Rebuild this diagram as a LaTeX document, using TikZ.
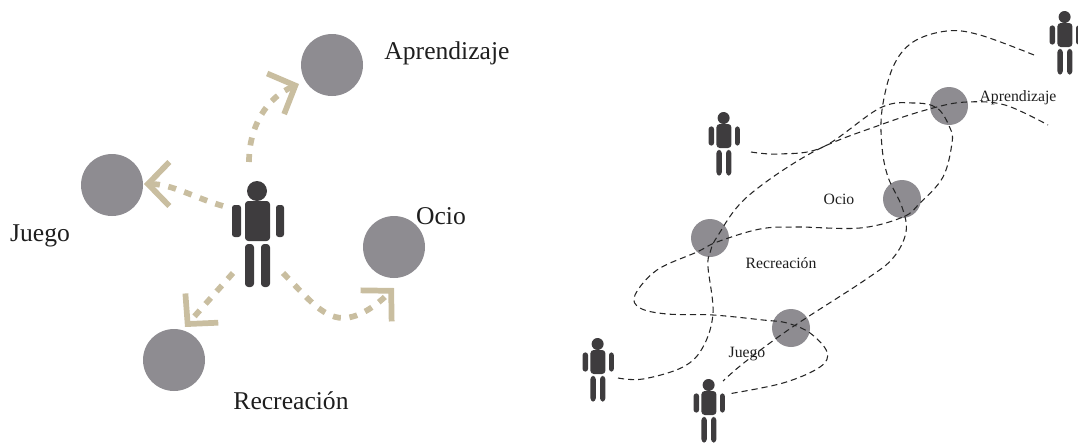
\documentclass[tikz,border=0pt]{standalone}
\usepackage{fontspec}
\setmainfont{Liberation Serif}
\usetikzlibrary{arrows.meta}
\definecolor{disc}{HTML}{8E8C91}
\definecolor{figurecol}{HTML}{3E3C3E}
\definecolor{tanline}{HTML}{C9BEA0}
\definecolor{labelcol}{HTML}{1E1E1E}
\tikzset{
  bigdisc/.style={circle,fill=disc,minimum size=46.5pt,inner sep=0pt},
  smalldisc/.style={circle,fill=disc,minimum size=28.5pt,inner sep=0pt},
  biglabel/.style={text=labelcol,inner sep=0pt,font=\fontsize{19.2}{22}\selectfont},
  smalllabel/.style={text=labelcol,inner sep=0pt,font=\fontsize{11.8}{14}\selectfont},
  tanarrow/.style={draw=tanline,line width=4.3pt,dash pattern=on 6pt off 6.5pt,
    -{Straight Barb[length=16pt,width=33pt,line width=4.3pt]}},
  route/.style={draw=black!85,line width=.8pt,dash pattern=on 4.6pt off 3pt},
  walker/.pic={
    \fill[figurecol] (1,0) circle[radius=10];
    \fill[figurecol,rounded corners=2.5pt] (-11,10) rectangle (14,50);
    \fill[figurecol,rounded corners=2pt] (-24,14) rectangle (-15,46);
    \fill[figurecol,rounded corners=2pt] (20,14) rectangle (28,46);
    \fill[figurecol,rounded corners=2.5pt] (-11,53) rectangle (-2,96);
    \fill[figurecol,rounded corners=2.5pt] (5,53) rectangle (14,96);
  }
}
\begin{document}
\begin{tikzpicture}[x=.75pt,y=-.75pt]
\useasboundingbox (0,0) rectangle (1078,443);
% left diagram
\node[bigdisc] (ap1) at (332,65) {};
\node[bigdisc] (ju1) at (112,185) {};
\node[bigdisc] (oc1) at (394,247) {};
\node[bigdisc] (re1) at (174,360) {};
\pic (central) at (256,191) {walker};
\coordinate (ca) at (249,162);
\coordinate (cj) at (223,206);
\coordinate (cr) at (233,273);
\coordinate (co) at (283,273);
\coordinate (ta) at (299,84);
\coordinate (tj) at (144,184);
\coordinate (tr) at (185,327);
\coordinate (to) at (394,288);
\draw[tanarrow] (ca) .. controls (249,125) and (268,97) .. (ta);
\draw[tanarrow] (cj) .. controls (195,198) and (172,184) .. (tj);
\draw[tanarrow] (cr) -- (tr);
\draw[tanarrow] (co) .. controls (305,295) and (322,318) .. (343,318) .. controls (360,318) and (378,304) .. (to);
\node[biglabel] (lap1) at (447,53) {Aprendizaje};
\node[biglabel] (lju1) at (40,236) {Juego};
\node[biglabel] (loc1) at (441,216) {Ocio};
\node[biglabel] (lre1) at (291,401) {Recreación};
% right diagram
\node[smalldisc] (ap2) at (949,106) {};
\node[smalldisc] (oc2) at (902,199) {};
\node[smalldisc] (re2) at (710,238) {};
\node[smalldisc] (ju2) at (791,328) {};
\pic[scale=.6] (pa) at (1064,17) {walker};
\pic[scale=.6] (pb) at (723,118) {walker};
\pic[scale=.6] (pc) at (597,344) {walker};
\pic[scale=.6] (pd) at (708,385) {walker};
\coordinate (a0) at (1034,55);
\coordinate (a1) at (723,381);
\coordinate (b0) at (751,152);
\coordinate (b1) at (728,394);
\coordinate (c0) at (618,378);
\coordinate (c1) at (1048,125);
\draw[route] plot[smooth,tension=.6] coordinates {(a0) (980,35) (947,31) (913,42) (893,67) (882,110) (882,147) (888,177) (902,207) (906,232) (893,258) (865,280) (791,328) (745,362) (a1)};
\draw[route] plot[smooth,tension=.6] coordinates {(b0) (780,154) (823,147) (880,108) (913,103) (937,108) (950,128) (952,143) (943,177) (920,203) (903,217) (860,228) (797,227) (760,229) (717,242) (697,252) (657,270) (635,295) (640,308) (667,314) (713,315) (763,320) (787,323) (810,333) (827,352) (820,367) (783,383) (b1)};
\draw[route] plot[smooth,tension=.6] coordinates {(c0) (643,379) (683,367) (703,347) (713,313) (708,267) (710,253) (717,237) (747,197) (813,152) (880,125) (933,108) (967,102) (1005,105) (c1)};
\node[smalllabel] (lap2) at (1018,98) {Aprendizaje};
\node[smalllabel] (loc2) at (839,199) {Ocio};
\node[smalllabel] (lre2) at (781,263) {Recreación};
\node[smalllabel] (lju2) at (747,354) {Juego};
\end{tikzpicture}
\end{document}
